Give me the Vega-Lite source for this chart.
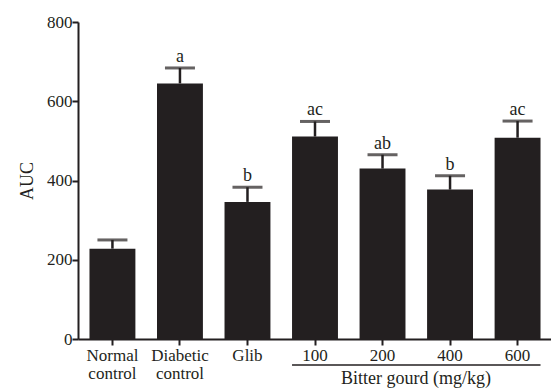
{
  "$schema": "https://vega.github.io/schema/vega-lite/v6.json",
  "autosize": "none",
  "width": 474,
  "height": 317,
  "padding": {"left": 78, "top": 22, "right": 0, "bottom": 49},
  "background": "white",
  "config": {
    "view": {"stroke": null},
    "font": "Liberation Serif",
    "axis": {"grid": false, "domainColor": "#231f20", "tickColor": "#231f20", "labelColor": "#231f20", "titleColor": "#231f20", "domainWidth": 2, "tickWidth": 2, "labelFont": "Liberation Serif", "titleFont": "Liberation Serif"}
  },
  "datasets": {
    "bars": [
      {"group": "Normal control", "mean": 228, "upper": 250, "letter": ""},
      {"group": "Diabetic control", "mean": 645, "upper": 684, "letter": "a"},
      {"group": "Glib", "mean": 346, "upper": 383, "letter": "b"},
      {"group": "100", "mean": 511, "upper": 549, "letter": "ac"},
      {"group": "200", "mean": 430, "upper": 465, "letter": "ab"},
      {"group": "400", "mean": 377, "upper": 412, "letter": "b"},
      {"group": "600", "mean": 508, "upper": 550, "letter": "ac"}
    ],
    "bracket": [{"from": "100", "to": "600", "y": -65.6}],
    "caption": [{"at": "200", "y": -113.5, "label": "Bitter gourd (mg/kg)"}]
  },
  "encoding": {
    "x": {
      "field": "group", "type": "nominal",
      "scale": {"domain": ["Normal control", "Diabetic control", "Glib", "100", "200", "400", "600"], "paddingInner": 0.32, "paddingOuter": 0.17},
      "axis": {"title": null, "labelAngle": 0, "labelFontSize": 17, "labelLineHeight": 18, "tickSize": 6, "labelPadding": 2, "labelBaseline": "top",
        "labelExpr": "datum.label == 'Normal control' ? ['Normal', 'control'] : datum.label == 'Diabetic control' ? ['Diabetic', 'control'] : datum.label"}
    }
  },
  "layer": [
    {
      "data": {"name": "bars"},
      "mark": {"type": "bar", "color": "#231f20"},
      "encoding": {
        "y": {"field": "mean", "type": "quantitative",
          "scale": {"domain": [0, 800]},
          "axis": {"title": "AUC", "titleFontSize": 18, "titleFontWeight": "normal", "titlePadding": 10, "labelFontSize": 17, "values": [0, 200, 400, 600, 800], "tickSize": 6, "labelPadding": 0}}
      }
    },
    {
      "data": {"name": "bars"},
      "mark": {"type": "rule", "color": "#231f20", "strokeWidth": 2.5},
      "encoding": {
        "y": {"field": "mean", "type": "quantitative"},
        "y2": {"field": "upper"}
      }
    },
    {
      "data": {"name": "bars"},
      "mark": {"type": "tick", "color": "#231f20", "size": 30, "thickness": 3},
      "encoding": {
        "y": {"field": "upper", "type": "quantitative"}
      }
    },
    {
      "data": {"name": "bars"},
      "mark": {"type": "text", "color": "#231f20", "fontSize": 18, "baseline": "alphabetic", "dy": -6},
      "encoding": {
        "y": {"field": "upper", "type": "quantitative"},
        "text": {"field": "letter"}
      }
    },
    {
      "data": {"name": "bracket"},
      "mark": {"type": "rule", "color": "#231f20", "strokeWidth": 1.5},
      "encoding": {
        "x": {"field": "from", "type": "nominal", "bandPosition": 0},
        "x2": {"field": "to", "bandPosition": 1},
        "y": {"field": "y", "type": "quantitative"}
      }
    },
    {
      "data": {"name": "caption"},
      "mark": {"type": "text", "color": "#231f20", "fontSize": 18, "baseline": "alphabetic", "align": "center"},
      "encoding": {
        "x": {"field": "at", "type": "nominal", "bandPosition": 1.23},
        "y": {"field": "y", "type": "quantitative"},
        "text": {"field": "label"}
      }
    }
  ]
}
